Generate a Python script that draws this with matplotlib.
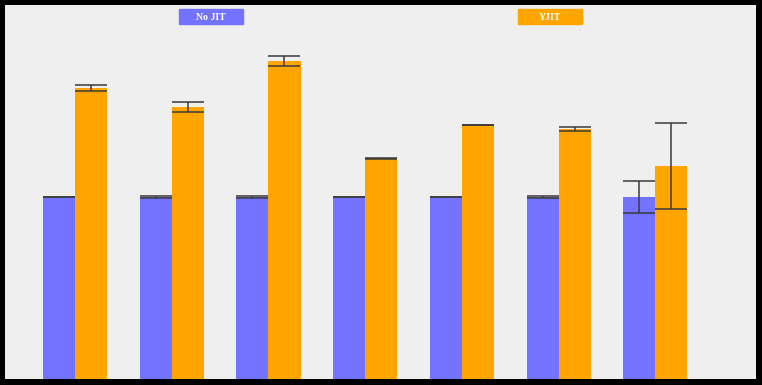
import numpy as np
import matplotlib
matplotlib.use("Agg")
import matplotlib.pyplot as plt
from matplotlib.patches import Rectangle

# benchmark ratios (normalised to No JIT)
groups = ["b1", "b2", "b3", "b4", "b5", "b6", "b7"]
nojit = [1.0, 1.0, 1.0, 1.0, 1.0, 1.0, 1.0]
nojit_err = [0.002, 0.006, 0.005, 0.002, 0.002, 0.005, 0.088]
yjit = [1.599, 1.495, 1.747, 1.213, 1.396, 1.375, 1.170]
yjit_err = [0.016, 0.029, 0.029, 0.002, 0.002, 0.011, 0.238]
labels = ["No JIT", "YJIT"]

blue = "#7373ff"
orange = "#ffa500"
w = 0.331

fig = plt.figure(figsize=(7.62, 3.85), dpi=100, facecolor="black")
ax = fig.add_axes([5 / 762, 6 / 385, 751 / 762, 374 / 385])
ax.set_facecolor("#efefef")

x = np.arange(len(groups))
ekw = dict(ecolor="#3a3a3a", elinewidth=1.1, capthick=1.1, capsize=11.5)
ax.bar(x - w / 2, nojit, w, color=blue, yerr=nojit_err, error_kw=ekw)
ax.bar(x + w / 2, yjit, w, color=orange, yerr=yjit_err, error_kw=ekw)

ax.set_xlim(-0.724, 7.04)
ax.set_ylim(0, 2.055)
ax.set_xticks([])
ax.set_yticks([])
for s in ax.spines.values():
    s.set_visible(False)

# legend boxes
for cx, lab, col in [(0.2747, labels[0], blue), (0.7257, labels[1], orange)]:
    bw, bh = 0.0852, 0.040
    ax.add_patch(Rectangle((cx - bw / 2, 0.968 - bh / 2), bw, bh,
                           transform=ax.transAxes, color=col, zorder=5))
    ax.text(cx, 0.966, lab, transform=ax.transAxes, ha="center", va="center",
            color="white", fontsize=7, fontweight="bold",
            family="Liberation Serif", zorder=6)

fig.savefig("out.png", dpi=100, facecolor="black")
